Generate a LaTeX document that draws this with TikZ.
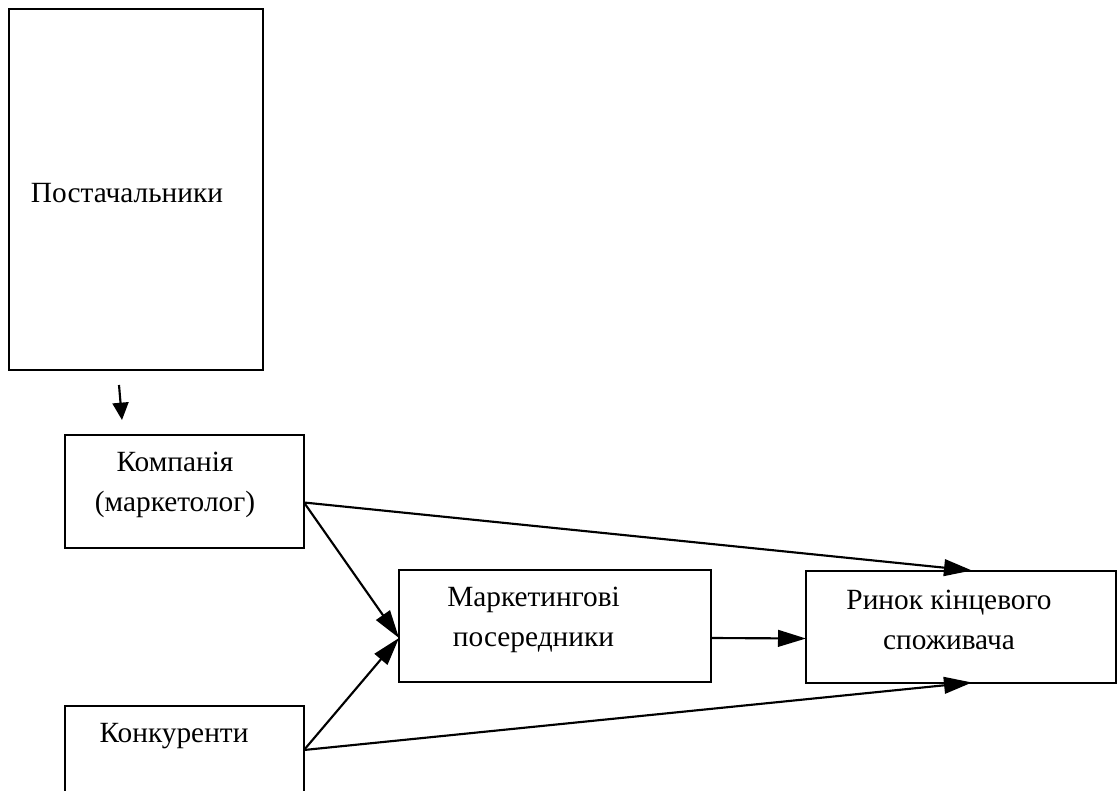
\documentclass[tikz,border=0pt]{standalone}
\usepackage{fontspec}
\setmainfont{Liberation Serif}
\usetikzlibrary{arrows.meta,calc}
\tikzset{
  box/.style={draw,line width=1.5pt,inner sep=0pt,outer sep=0pt},
  txt/.style={align=center,inner sep=0pt,font=\fontsize{22}{29.5}\selectfont},
  arr/.style={line width=1.6pt,-{Triangle[length=21pt,width=12.5pt]}},
  sarr/.style={line width=1.6pt,-{Triangle[length=13pt,width=12pt]}}
}
\begin{document}
\begin{tikzpicture}[x=0.75pt,y=-0.75pt]
\clip (0,0) rectangle (1117,791);
\fill[white] (0,0) rectangle (1117,791);
% boxes
\node[box,minimum width=190.5pt,minimum height=270.75pt] (post) at (136,189.5) {};
\node[box,minimum width=179.25pt,minimum height=84.75pt] (comp) at (184.5,491.5) {};
\node[box,minimum width=234pt,minimum height=84pt] (mark) at (555,626) {};
\node[box,minimum width=232.5pt,minimum height=84pt] (rynok) at (961,626.5) {};
\node[box,minimum width=179.25pt,minimum height=84.75pt] (konk) at (184.5,762.5) {};
% labels
\node[txt] (posttxt) at ($(post.center)+(-9,4)$) {Постачальники};
\node[txt] (comptxt) at ($(comp.center)+(-9.5,-6.5)$) {Компанія\\(маркетолог)};
\node[txt] (marktxt) at ($(mark.center)+(-21.5,-6)$) {Маркетингові\\посередники};
\node[txt] (rynoktxt) at ($(rynok.center)+(-12,-6.5)$) {Ринок кінцевого\\споживача};
\node[txt] (konktxt) at ($(konk.north)+(-10.5,30)$) {Конкуренти};
% arrow ends
\coordinate (s1) at (119,385);\coordinate (s2) at (122,420);
\coordinate (compout) at ($(comp.east)+(0,11)$);\coordinate (konkout) at ($(konk.north east)+(0,44)$);
\coordinate (markin) at ($(mark.west)+(0,12)$);\coordinate (markout) at ($(mark.east)+(0,12)$);
\coordinate (rynokin) at ($(rynok.west)+(0,12)$);\coordinate (rynoktop) at ($(rynok.north)+(11,0)$);
\coordinate (rynokbot) at ($(rynok.south)+(11,0)$);
\draw[sarr] (s1)--(s2);
\foreach \a/\b in {compout/markin, compout/rynoktop, konkout/markin, konkout/rynokbot, markout/rynokin}
  \draw[arr] (\a)--(\b);
\end{tikzpicture}
\end{document}
